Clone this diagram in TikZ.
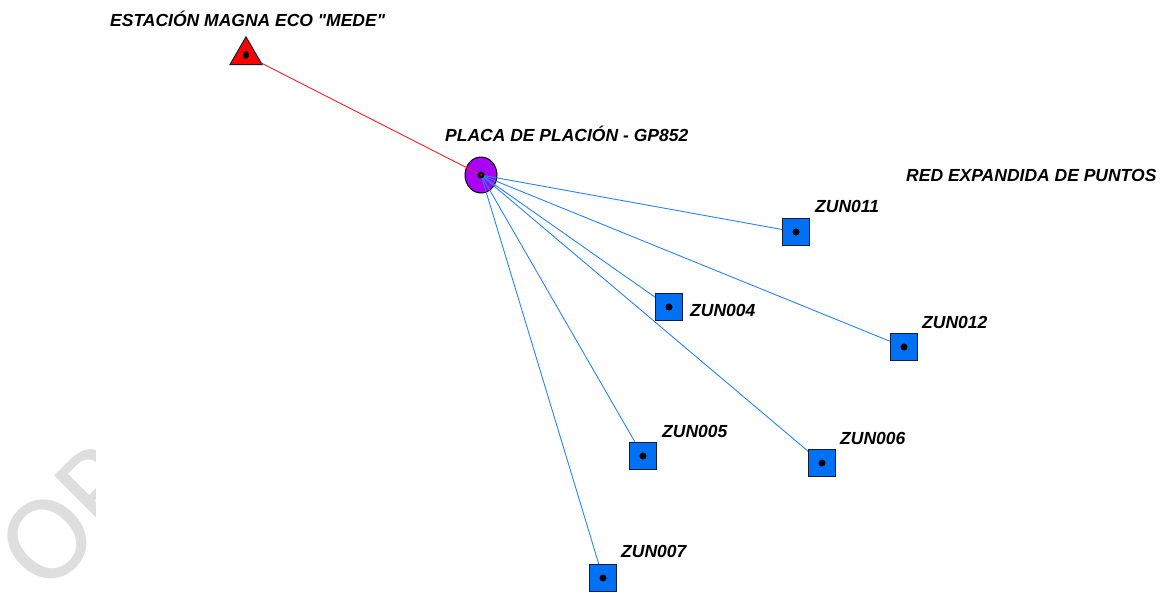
\documentclass[tikz,border=0pt]{standalone}
\usepackage{fontspec}
\setmainfont{Liberation Sans}[Ligatures=TeXOff]
\newfontfamily\wmfont{Carlito}
\usetikzlibrary{shapes.geometric,backgrounds}
\definecolor{wm}{RGB}{222,222,222}
\definecolor{placa}{RGB}{170,0,245}
\definecolor{sqblue}{RGB}{0,112,245}
\definecolor{sqedge}{RGB}{20,28,60}
\definecolor{raycol}{RGB}{40,130,255}
\definecolor{redray}{RGB}{255,30,30}
\begin{document}
\begin{tikzpicture}[x=1pt,y=-1pt,
  lbl/.style={font=\fontsize{17.5}{20}\selectfont\bfseries\itshape, inner sep=0pt, anchor=base west},
  zun/.style={draw=sqedge, fill=sqblue, minimum size=27pt, inner sep=0pt, line width=1pt},
  dotc/.style={circle, fill=black, inner sep=0pt, minimum size=7pt},
  ray/.style={draw=raycol, line width=0.9pt},
  redline/.style={draw=redray, line width=0.9pt},
  placanode/.style={ellipse, draw=black, fill=placa, minimum width=32pt, minimum height=36pt, inner sep=0pt, line width=1pt},
  trinode/.style={regular polygon, regular polygon sides=3, draw=sqedge, fill=red, minimum size=37pt, inner sep=0pt, line width=1pt},
]
\useasboundingbox (0,0) rectangle (1161,592);
% watermark
\begin{scope}
\clip (0,430) rectangle (95,592);
\node[font=\wmfont\fontsize{124}{124}\selectfont, text=wm, rotate=45, anchor=base west, inner sep=0pt] (wmk) at (46,597) {ORI};
\end{scope}
% points
\node[trinode] (mede) at (246,55.3) {};
\node[zun] (z011) at (796,232) {};
\node[zun] (z004) at (669,307) {};
\node[zun] (z012) at (904,347) {};
\node[zun] (z005) at (643,456) {};
\node[zun] (z006) at (822,463) {};
\node[zun] (z007) at (603,578) {};
\begin{pgfonlayer}{background}
\node[placanode] (gp) at (481,175) {};
\draw[redline] (gp.center) -- (mede.center);
\draw[ray] (gp.center) -- (z011.center);
\draw[ray] (gp.center) -- (z004.center);
\draw[ray] (gp.center) -- (z012.center);
\draw[ray] (gp.center) -- (z005.center);
\draw[ray] (gp.center) -- (z006.center);
\draw[ray] (gp.center) -- (z007.center);
\end{pgfonlayer}
% centre dots
\node[dotc] (dgp) at (gp.center) {};
\node[circle, fill=red, inner sep=0pt, minimum size=2pt] (dgpr) at (gp.center) {};
\node[dotc, minimum width=6pt, minimum height=8pt, ellipse] (dmede) at (246,55) {};
\node[dotc] (d011) at (z011.center) {};
\node[dotc] (d004) at (z004.center) {};
\node[dotc] (d012) at (z012.center) {};
\node[dotc] (d005) at (z005.center) {};
\node[dotc] (d006) at (z006.center) {};
\node[dotc] (d007) at (z007.center) {};
% labels
\node[lbl] (tmede) at (110,26) {ESTACIÓN MAGNA ECO "MEDE"};
\node[lbl] (tgp) at (445,141) {PLACA DE PLACIÓN - GP852};
\node[lbl] (tred) at (906,181) {RED EXPANDIDA DE PUNTOS};
\node[lbl] (t011) at (815,212) {ZUN011};
\node[lbl] (t004) at (690,316) {ZUN004};
\node[lbl] (t012) at (922,328) {ZUN012};
\node[lbl] (t005) at (662,437) {ZUN005};
\node[lbl] (t006) at (840,444) {ZUN006};
\node[lbl] (t007) at (621,557) {ZUN007};
\end{tikzpicture}
\end{document}
